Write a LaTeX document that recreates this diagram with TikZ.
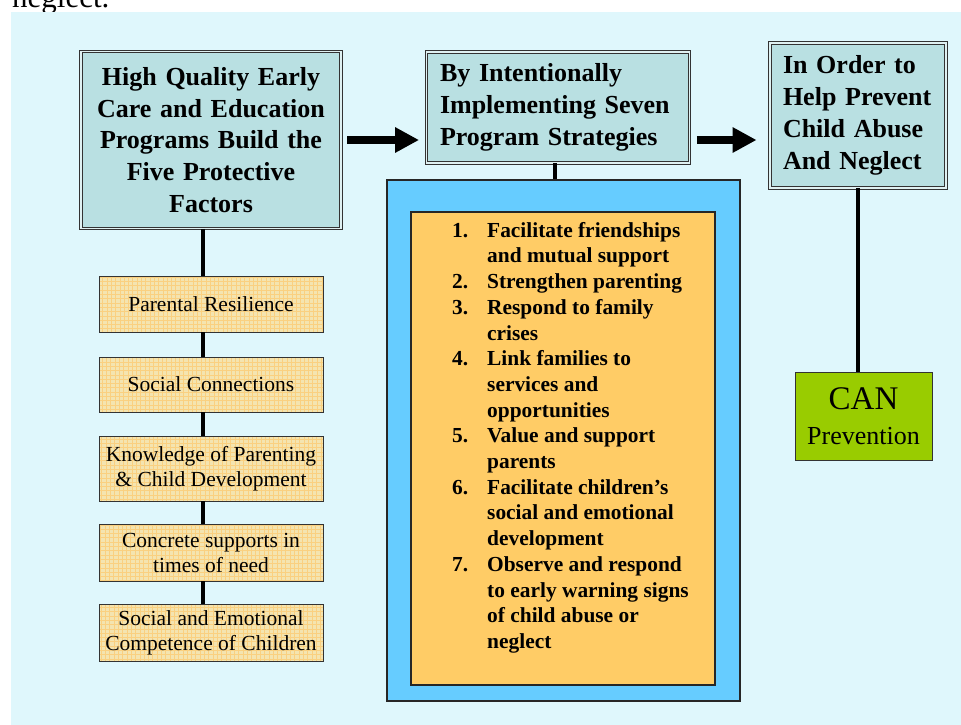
\documentclass[tikz,border=0pt]{standalone}
\usepackage{fontspec}
\setmainfont{Liberation Serif}
\usetikzlibrary{arrows.meta}
\definecolor{bgc}{RGB}{223,247,252}
\definecolor{hdr}{RGB}{185,224,226}
\definecolor{bluec}{RGB}{102,204,255}
\definecolor{orangec}{RGB}{255,204,102}
\definecolor{greenc}{RGB}{153,204,0}
\definecolor{yelc}{RGB}{244,228,176}
\definecolor{gridc}{RGB}{250,208,128}
\tikzset{
  hdrbox/.style={draw=black!80, line width=0.9pt, double=white!55!hdr, double distance=1.4pt,
    fill=hdr, inner sep=0pt, font=\fontsize{26}{31.8}\selectfont\bfseries},
  factbox/.style={draw=black!80, line width=0.8pt, fill=yelc, inner sep=0pt,
    minimum width=224pt, align=center, font=\fontsize{21.5}{25}\selectfont,
    path picture={\draw[gridc, line width=0.3pt] (path picture bounding box.south west) grid[step=4.3pt] (path picture bounding box.north east);}},
  conn/.style={line width=4pt, black},
  bigarrow/.style={line width=8pt, black, -{Triangle[length=24pt, width=24pt]}}
}
\begin{document}
\begin{tikzpicture}[x=1pt,y=-1pt]
\clip (0,0) rectangle (961,725);
\fill[white] (0,0) rectangle (961,725);
\node[anchor=base west, inner sep=0pt, font=\fontsize{31}{33}\selectfont] (top) at (12,7.5) {neglect.};
\fill[bgc] (11,12) rectangle (961,725);

% header boxes
\node[hdrbox, minimum width=260pt, minimum height=177pt, align=center, text width=254pt] (b1) at (211,140)
  {High Quality Early\\Care and Education\\Programs Build the\\Five Protective\\Factors};
\node[hdrbox, minimum width=263pt, minimum height=111pt, align=left, text width=236pt] (b2) at (558,107.5)
  {By Intentionally\\Implementing Seven\\Program Strategies};
\node[hdrbox, minimum width=176pt, minimum height=145pt, align=left, text width=150pt] (b3) at (858,115.5)
  {In Order to\\Help Prevent\\Child Abuse\\And Neglect};

% arrows
\draw[bigarrow, shorten <=6pt, shorten >=7pt] (b1.east) -- (b1.east -| b2.west);
\draw[bigarrow, shorten <=7pt, shorten >=13pt] (b2.east |- b1.east) -- (b1.east -| b3.west);

% protective factor boxes
\node[factbox, minimum height=56pt] (f1) at (211,304) {Parental Resilience};
\node[factbox, minimum height=55pt] (f2) at (211,384.5) {Social Connections};
\node[factbox, minimum height=65pt] (f3) at (211,468.5) {Knowledge of Parenting\\\& Child Development};
\node[factbox, minimum height=57pt] (f4) at (211,552.5) {Concrete supports in\\times of need};
\node[factbox, minimum height=57pt] (f5) at (211,632.5) {Social and Emotional\\Competence of Children};

\coordinate (lx) at (203,0);
\draw[conn] (b1.south -| lx) -- (f1.north -| lx);
\draw[conn] (f1.south -| lx) -- (f2.north -| lx);
\draw[conn] (f2.south -| lx) -- (f3.north -| lx);
\draw[conn] (f3.south -| lx) -- (f4.north -| lx);
\draw[conn] (f4.south -| lx) -- (f5.north -| lx);

% strategies
\node[draw=black!85, line width=1.5pt, fill=bluec, minimum width=353pt, minimum height=521pt, inner sep=0pt] (blue) at (563.5,440.5) {};
\node[draw=black!85, line width=1.2pt, fill=orangec, minimum width=304pt, minimum height=473pt, inner sep=0pt] (orange) at (563,448.5) {};
\node[anchor=north west, inner sep=0pt, align=left, font=\fontsize{21.4}{25.7}\selectfont\bfseries] (list) at (452,222)
  {\makebox[35pt][l]{1.}Facilitate friendships\\
   \hspace*{35pt}and mutual support\\
   \makebox[35pt][l]{2.}Strengthen parenting\\
   \makebox[35pt][l]{3.}Respond to family\\
   \hspace*{35pt}crises\\
   \makebox[35pt][l]{4.}Link families to\\
   \hspace*{35pt}services and\\
   \hspace*{35pt}opportunities\\
   \makebox[35pt][l]{5.}Value and support\\
   \hspace*{35pt}parents\\
   \makebox[35pt][l]{6.}Facilitate children’s\\
   \hspace*{35pt}social and emotional\\
   \hspace*{35pt}development\\
   \makebox[35pt][l]{7.}Observe and respond\\
   \hspace*{35pt}to early warning signs\\
   \hspace*{35pt}of child abuse or\\
   \hspace*{35pt}neglect};
\draw[conn] (b2.south -| 555,0) -- (blue.north -| 555,0);

% CAN prevention
\node[draw=black!80, line width=0.8pt, fill=greenc, minimum width=137pt, minimum height=88pt, inner sep=0pt, align=center,
  font=\fontsize{26}{35}\selectfont] (can) at (863.5,416)
  {{\fontsize{33}{35}\selectfont CAN}\\Prevention};
\draw[conn] (b3.south) -- (can.north -| b3.south);
\end{tikzpicture}
\end{document}
